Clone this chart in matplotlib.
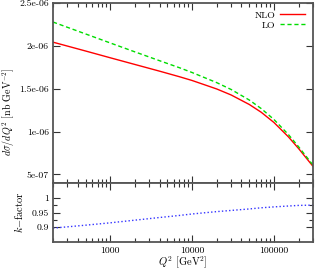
import numpy as np
import matplotlib
matplotlib.use("Agg")
import matplotlib.pyplot as plt
from matplotlib.ticker import FixedLocator, NullFormatter, FixedFormatter, LogLocator

plt.rcParams['font.family'] = ['cmr10', 'DejaVu Serif']
plt.rcParams['mathtext.fontset'] = 'cm'
plt.rcParams['axes.unicode_minus'] = False
plt.rcParams['axes.formatter.use_mathtext'] = True

# Data
q2 = [200, 500, 1000, 2000, 4000, 7000, 10000, 20000, 30000, 50000, 70000,
      100000, 150000, 200000, 300000]
nlo = [2.043e-6, 1.940e-6, 1.861e-6, 1.783e-6, 1.705e-6, 1.640e-6, 1.596e-6, 1.497e-6,
       1.427e-6, 1.316e-6, 1.225e-6, 1.106e-6, 0.939e-6, 0.802e-6, 0.594e-6]
lo = [2.278e-6, 2.139e-6, 2.034e-6, 1.930e-6, 1.827e-6, 1.745e-6, 1.689e-6, 1.571e-6,
      1.491e-6, 1.368e-6, 1.268e-6, 1.141e-6, 0.966e-6, 0.823e-6, 0.609e-6]
kfac = [0.897, 0.907, 0.915, 0.924, 0.933, 0.940, 0.945, 0.953, 0.957, 0.962, 0.966,
        0.969, 0.972, 0.974, 0.975]

upper_yticks = [5e-7, 1e-6, 1.5e-6, 2e-6, 2.5e-6]
upper_ylabels = ['5e-07', '1e-06', '1.5e-06', '2e-06', '2.5e-06']
lower_yticks = [0.9, 0.95, 1.0]
lower_ylabels = ['0.9', '0.95', '1']
xticks = [1000, 10000, 100000]
xlabels = ['1000', '10000', '100000']

W, H = 317, 271
fig = plt.figure(figsize=(W / 100, H / 100), dpi=100)

def fx(px):
    return px / W

def fy(py):
    return 1 - py / H

left, right = 53, 313
ax1 = fig.add_axes([fx(left), fy(183), fx(right - left), fy(3) - fy(183)])
ax2 = fig.add_axes([fx(left), fy(242), fx(right - left), fy(183) - fy(242)])

frame_col = '#555555'
for ax in (ax1, ax2):
    ax.set_xscale('log')
    ax.set_xlim(200, 300000)
    for s in ax.spines.values():
        s.set_linewidth(1.3)
        s.set_color(frame_col)
    ax.tick_params(which='both', direction='in', top=True, right=True, color='#333333',
                   labelsize=7, pad=3)
    ax.tick_params(which='major', length=5, width=0.8)
    ax.tick_params(which='minor', length=3, width=0.8)
    ax.xaxis.set_major_locator(FixedLocator(xticks))
    ax.xaxis.set_minor_locator(LogLocator(base=10, subs=np.arange(2, 10)))
    ax.xaxis.set_minor_formatter(NullFormatter())

ax1.plot(q2, nlo, color='#ff0000', lw=1.0, label='NLO')
ax1.plot(q2, lo, color='#00dd00', lw=1.0, ls=(0, (3, 2)), label='LO')
ax1.set_ylim(4e-7, 2.5e-6)
ax1.yaxis.set_major_locator(FixedLocator(upper_yticks))
ax1.yaxis.set_major_formatter(FixedFormatter(upper_ylabels))
ax1.xaxis.set_major_formatter(NullFormatter())
ax1.set_ylabel(r'$d\sigma/dQ^2$ [nb GeV$^{-2}$]', fontsize=7.2)
ax1.yaxis.set_label_coords((17 - left) / (right - left), (183 - 112) / 180)

leg = ax1.legend(loc='upper right', frameon=False, fontsize=7, markerfirst=False,
                 handlelength=2.6, handletextpad=0.5, labelspacing=0.15,
                 borderaxespad=0.5, borderpad=0.3)

ax2.plot(q2, kfac, color='#3333ff', lw=1.0, ls=(0, (1, 1.6)))
ax2.set_ylim(0.85, 1.05)
ax2.yaxis.set_major_locator(FixedLocator(lower_yticks))
ax2.yaxis.set_major_formatter(FixedFormatter(lower_ylabels))
ax2.yaxis.set_minor_locator(FixedLocator([0.925, 0.975]))
ax2.xaxis.set_major_formatter(FixedFormatter(xlabels))
ax2.set_ylabel(r'$k{-}$factor', fontsize=7.5)
ax2.yaxis.set_label_coords((25 - left) / (right - left), (242 - 212) / 59)
ax2.set_xlabel(r'$Q^2$ [GeV$^2$]', fontsize=7.5)
ax2.xaxis.set_label_coords(0.5, -(255 - 242) / 59)

fig.savefig('out.png', dpi=100)
